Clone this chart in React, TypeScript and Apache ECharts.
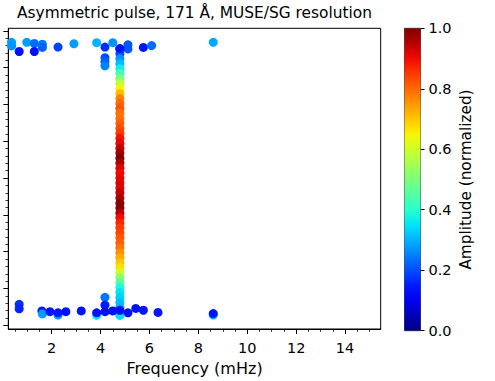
import React, { useEffect, useRef } from "react";
import * as echarts from "echarts";

// ---- data ----
const title = "Asymmetric pulse, 171 Å, MUSE/SG resolution";
const xName = "Frequency (mHz)";
const cbarName = "Amplitude (normalized)";

const xMin = 0.225;
const xMax = 15.46;
const yMin = 0;
const yMax = 8.17;
const xMajorTicks = [2, 4, 6, 8, 10, 12, 14];
const xMinorTicks = [0.5, 1, 1.5, 2.5, 3, 3.5, 4.5, 5, 5.5, 6.5, 7, 7.5, 8.5, 9, 9.5, 10.5, 11, 11.5, 12.5, 13, 13.5, 14.5, 15];
const yMajorTicks = [0.1, 1.1, 2.1, 3.1, 4.1, 5.1, 6.1, 7.1, 8.1];
const yMinorTicks = [0.3, 0.5, 0.7, 0.9, 1.3, 1.5, 1.7, 1.9, 2.3, 2.5, 2.7, 2.9, 3.3, 3.5, 3.7, 3.9, 4.3, 4.5, 4.7, 4.9, 5.3, 5.5, 5.7, 5.9, 6.3, 6.5, 6.7, 6.9, 7.3, 7.5, 7.7, 7.9];
const cbarTicks = [0, 0.2, 0.4, 0.6, 0.8, 1.0];

// central ridge at ~4.8 mHz
const ridgeFreq = 4.79;
const ridgeY = [7.61, 7.48, 7.34, 7.21, 7.07, 6.94, 6.8, 6.67, 6.53, 6.4, 6.26, 6.13, 5.99, 5.86, 5.72, 5.59, 5.45, 5.32, 5.18, 5.05, 4.91, 4.78, 4.64, 4.51, 4.37, 4.24, 4.1, 3.97, 3.83, 3.7, 3.56, 3.42, 3.29, 3.15, 3.02, 2.88, 2.75, 2.61, 2.48, 2.34, 2.21, 2.07, 1.94, 1.8, 1.67, 1.53, 1.4, 1.26, 1.13, 0.99, 0.86, 0.72, 0.59, 0.45, 0.37];
const ridgeAmp = [0.15, 0.2, 0.27, 0.31, 0.37, 0.43, 0.5, 0.58, 0.65, 0.71, 0.77, 0.8, 0.82, 0.79, 0.79, 0.81, 0.83, 0.85, 0.89, 0.91, 0.94, 0.97, 1.0, 0.96, 0.92, 0.9, 0.91, 0.92, 0.92, 0.94, 0.96, 0.99, 0.99, 0.95, 0.9, 0.87, 0.85, 0.84, 0.82, 0.81, 0.79, 0.76, 0.73, 0.7, 0.67, 0.6, 0.52, 0.46, 0.39, 0.35, 0.33, 0.31, 0.3, 0.32, 0.34];

// scattered peaks
const dotFreq = [0.36, 0.36, 0.67, 0.98, 1.29, 1.29, 1.62, 1.62, 2.26, 2.91, 3.84, 4.18, 4.18, 4.18, 4.18, 4.5, 5.12, 5.12, 5.75, 6.09, 8.61, 4.79,
  0.67, 0.67, 1.6, 1.62, 1.93, 2.26, 2.26, 2.58, 3.21, 3.84, 3.84, 4.18, 4.18, 4.18, 4.5, 4.79, 5.12, 5.44, 5.75, 6.35, 8.61, 8.61];
const dotY = [7.79, 7.69, 7.54, 7.79, 7.76, 7.54, 7.74, 7.65, 7.66, 7.75, 7.78, 7.66, 7.37, 7.26, 7.15, 7.78, 7.72, 7.61, 7.65, 7.7, 7.79, 7.62,
  0.67, 0.55, 0.49, 0.41, 0.47, 0.38, 0.44, 0.47, 0.49, 0.37, 0.44, 0.86, 0.65, 0.47, 0.49, 0.51, 0.44, 0.56, 0.51, 0.45, 0.38, 0.42];
const dotAmp = [0.28, 0.27, 0.13, 0.28, 0.23, 0.13, 0.24, 0.22, 0.19, 0.28, 0.3, 0.17, 0.2, 0.22, 0.25, 0.27, 0.21, 0.21, 0.14, 0.23, 0.29, 0.14,
  0.17, 0.16, 0.15, 0.28, 0.14, 0.28, 0.14, 0.13, 0.13, 0.36, 0.13, 0.24, 0.15, 0.13, 0.13, 0.13, 0.13, 0.13, 0.14, 0.14, 0.3, 0.14];

// jet colormap sampled every 0.05
const jet = ["#000080", "#0000b9", "#0000f3", "#001aff", "#004dff", "#0080ff", "#00b3ff", "#00e6f7", "#29ffce", "#52ffa4", "#7bff7b", "#a4ff52", "#ceff29", "#f7f500", "#ffc600", "#ff9700", "#ff6800", "#ff3900", "#f30900", "#b90000", "#800000"];

const FONT = "DejaVu Sans";

export default function App() {
  const ref = useRef<HTMLDivElement>(null);
  useEffect(() => {
    if (!ref.current) return;
    const chart = echarts.init(ref.current, null, { renderer: "svg" });
    const ridgeData = ridgeY.map((y, i) => [ridgeFreq, y, ridgeAmp[i]]);
    const dotData = dotFreq.map((f, i) => [f, dotY[i], dotAmp[i]]);
    const gradStops = jet.map((c, i) => ({ offset: 1 - i / (jet.length - 1), color: c })).reverse();
    const gLeft = 8.3, gTop = 28.3, gW = 372.4, gH = 302.4;
    chart.setOption({
      animation: false,
      backgroundColor: "#fff",
      textStyle: { fontFamily: FONT },
      graphic: [
        {
          type: "text", x: gLeft + gW / 2, y: 20, silent: true,
          style: { text: title, textAlign: "center", textVerticalAlign: "bottom", fontFamily: FONT, fontSize: 15.4, fill: "#000" },
        },
      ],
      grid: [
        { left: gLeft, top: gTop, width: gW, height: gH, show: true, borderColor: "#000", borderWidth: 1, backgroundColor: "transparent" },
        { left: 404.5, top: gTop, width: 16, height: gH, show: true, borderColor: "#222", borderWidth: 0.8, backgroundColor: "transparent" },
      ],
      xAxis: [
        {
          type: "value", gridIndex: 0, min: xMin, max: xMax, position: "bottom",
          axisLine: { show: true, lineStyle: { color: "#000", width: 1 } },
          axisTick: { show: true, customValues: xMajorTicks, length: 5, lineStyle: { color: "#000", width: 1 } },
          axisLabel: { show: true, customValues: xMajorTicks, margin: 11, fontFamily: FONT, fontSize: 14.5, color: "#000" },
          splitLine: { show: false },
          name: xName, nameLocation: "middle", nameGap: 31,
          nameTextStyle: { fontFamily: FONT, fontSize: 16, color: "#000" },
        },
        {
          type: "value", gridIndex: 0, min: xMin, max: xMax, position: "bottom",
          axisLine: { show: false },
          axisTick: { show: true, customValues: xMinorTicks, length: 2.8, lineStyle: { color: "#000", width: 0.8 } },
          axisLabel: { show: false },
          splitLine: { show: false },
        },
        { type: "category", gridIndex: 1, data: ["c"], show: false },
      ],
      yAxis: [
        {
          type: "value", gridIndex: 0, min: yMin, max: yMax, position: "left",
          axisLine: { show: true, lineStyle: { color: "#000", width: 1 } },
          axisTick: { show: true, customValues: yMajorTicks, length: 5, lineStyle: { color: "#000", width: 1 } },
          axisLabel: { show: false },
          splitLine: { show: false },
        },
        {
          type: "value", gridIndex: 0, min: yMin, max: yMax, position: "left",
          axisLine: { show: false },
          axisTick: { show: true, customValues: yMinorTicks, length: 2.8, lineStyle: { color: "#000", width: 0.8 } },
          axisLabel: { show: false },
          splitLine: { show: false },
        },
        {
          type: "value", gridIndex: 1, min: 0, max: 1, interval: 0.2, position: "right",
          axisLine: { show: false },
          axisTick: { show: true, customValues: cbarTicks, length: 4, lineStyle: { color: "#000", width: 1 } },
          axisLabel: { show: true, customValues: cbarTicks, margin: 8, fontFamily: FONT, fontSize: 14.5, color: "#000", formatter: (v: number) => v.toFixed(1) },
          splitLine: { show: false },
          name: cbarName, nameLocation: "middle", nameRotate: 90, nameGap: 38,
          nameTextStyle: { fontFamily: FONT, fontSize: 15.3, color: "#000" },
        },
      ],
      visualMap: {
        type: "continuous", show: false, min: 0, max: 1, dimension: 2, seriesIndex: [0, 1],
        inRange: { color: jet },
      },
      series: [
        {
          type: "scatter", xAxisIndex: 0, yAxisIndex: 0, data: ridgeData,
          symbol: "circle", symbolSize: 9, itemStyle: { opacity: 1 }, silent: true,
        },
        {
          type: "scatter", xAxisIndex: 0, yAxisIndex: 0, data: dotData,
          symbol: "circle", symbolSize: 9, itemStyle: { opacity: 1 }, silent: true,
        },
        {
          type: "bar", xAxisIndex: 2, yAxisIndex: 2, data: [1], barWidth: "100%", silent: true,
          itemStyle: { color: new echarts.graphic.LinearGradient(0, 0, 0, 1, gradStops) },
        },
      ],
    });
    return () => chart.dispose();
  }, []);
  return <div ref={ref} style={{ width: 495, height: 381, position: "absolute", left: 0, top: 0 }} />;
}
